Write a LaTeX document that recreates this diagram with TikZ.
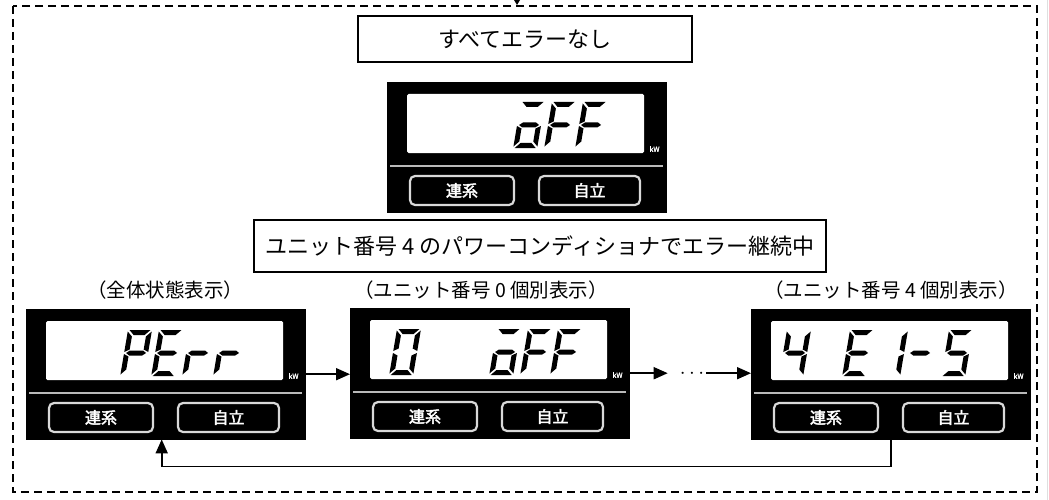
\documentclass[tikz,border=0pt]{standalone}
\usepackage{fontspec}
\setmainfont{Noto Sans CJK JP}
\newfontfamily\btnfont[FakeBold=2.5]{Noto Sans CJK JP}
\newfontfamily\kwfont[FakeBold=2]{Noto Sans CJK JP}
\usetikzlibrary{arrows.meta,calc}
\tikzset{
  panelbox/.style={fill=black, draw=black, minimum width=279pt, minimum height=130pt, inner sep=0pt, anchor=north west},
  tbox/.style={draw=black, line width=1.4pt, fill=white, inner sep=0pt, font=\fontsize{22}{22}\selectfont},
  lbl/.style={font=\fontsize{19.5}{19.5}\selectfont, inner sep=0pt},
  conn/.style={line width=1.8pt, -{Triangle[length=14pt,width=12pt]}},
  btn/.style={draw=gray!30, line width=2.2pt, rounded corners=5pt, fill=black},
  btntext/.style={text=white, font=\btnfont\fontsize{16}{16}\selectfont, inner sep=0pt},
  kwtext/.style={text=white, font=\kwfont\fontsize{7}{7}\selectfont, inner sep=0pt},
  segc/.style={fill=black},
  outer/.style={draw=black, line width=2pt, dash pattern=on 8pt off 5pt}
}
\newcommand\sga{\fill[segc] (1.5,0) -- (22.5,0) -- (17.5,5) -- (6.5,5) -- cycle;}
\newcommand\sgd{\fill[segc] (1.5,46) -- (22.5,46) -- (17.5,41) -- (6.5,41) -- cycle;}
\newcommand\sgg{\fill[segc] (2,23) -- (5.5,20.5) -- (18.5,20.5) -- (22,23) -- (18.5,25.5) -- (5.5,25.5) -- cycle;}
\newcommand\sgf{\fill[segc] (0,1.5) -- (5,6.5) -- (5,19.5) -- (0,22) -- cycle;}
\newcommand\sge{\fill[segc] (0,24) -- (5,26.5) -- (5,39.5) -- (0,44.5) -- cycle;}
\newcommand\sgb{\fill[segc] (24,1.5) -- (19,6.5) -- (19,19.5) -- (24,22) -- cycle;}
\newcommand\sgc{\fill[segc] (24,24) -- (19,26.5) -- (19,39.5) -- (24,44.5) -- cycle;}
\newcommand\sevseg[3]{\begin{scope}[shift={(#1,#2)},xslant=0.17]\foreach \s in {#3}{\csname sg\s\endcsname}\end{scope}}
\newcommand\lcdpanel[4]{%
  \node[panelbox] (#1) at (#2,#3) {};
  \begin{scope}[shift={(#2,#3)}]
    \fill[white, rounded corners=1.5pt] (20,12) rectangle (257,71);
    \node[kwtext] (#1kw) at (267.5,67) {kW};
    \draw[gray!55, line width=1.8pt] (3,84) -- (276,84);
    \draw[btn] (23,94) rectangle (127,123);
    \node[btntext] (#1ren) at (75,108.5) {連系};
    \draw[btn] (152,94) rectangle (253,123);
    \node[btntext] (#1jir) at (202.5,108.5) {自立};
    #4
  \end{scope}}
\begin{document}
\begin{tikzpicture}[x=1pt,y=-1pt]
\useasboundingbox (0,0) rectangle (1049,500);
\fill[white] (0,0) rectangle (1049,500);
\draw[gray!25, line width=1pt] (1047,0) -- (1047,500);
\draw[outer] (13,6) rectangle (1037,492);
\fill[black] (514,0) -- (520,0) -- (517,5) -- cycle;

\node[tbox, minimum width=334pt, minimum height=46pt] (b1) at (525,39) {すべてエラーなし};

\lcdpanel{top}{387}{82}{%
  \sevseg{134}{20}{a,c,d,e,g}
  \sevseg{165}{20}{a,e,f,g}
  \sevseg{196}{20}{a,e,f,g}}

\node[tbox, minimum width=572pt, minimum height=52pt] (b2) at (540,246) {ユニット番号 4 のパワーコンディショナでエラー継続中};

\node[lbl] (l1) at (165,290) {（全体状態表示）};
\node[lbl] (l2) at (481,290) {（ユニット番号 0 個別表示）};
\node[lbl] (l3) at (891,290) {（ユニット番号 4 個別表示）};

\lcdpanel{p1}{26}{309}{%
  \sevseg{102}{21}{a,b,e,f,g}
  \sevseg{133}{21}{a,d,e,f,g}
  \sevseg{164}{21}{e,g}
  \sevseg{195}{21}{e,g}}

\lcdpanel{p2}{350}{308}{%
  \sevseg{47}{21}{a,b,c,d,e,f}
  \sevseg{147}{21}{a,c,d,e,g}
  \sevseg{178}{21}{a,e,f,g}
  \sevseg{208}{21}{a,e,f,g}}

\lcdpanel{p3}{751}{309}{%
  \sevseg{36}{21}{b,c,f,g}
  \sevseg{99}{21}{a,d,e,f,g}
  \sevseg{133}{21}{b,c}
  \sevseg{161}{21}{g}
  \sevseg{198}{21}{a,c,d,f,g}}

\node[inner sep=0pt, font=\kwfont\fontsize{20}{20}\selectfont] (dots) at (692,374) {$\cdots$};

\draw[conn] (p1.east) -- (p1.east -| p2.west);
\draw[conn] (p2.east) -- ([xshift=-12pt]p2.east -| dots.west);
\draw[conn] ([xshift=2pt]dots.east |- p2.east) -- (p2.east -| p3.west);
\draw[conn] (p3.south) -- ++(0,27) -| ([xshift=-4pt]p1.south);
\end{tikzpicture}
\end{document}
